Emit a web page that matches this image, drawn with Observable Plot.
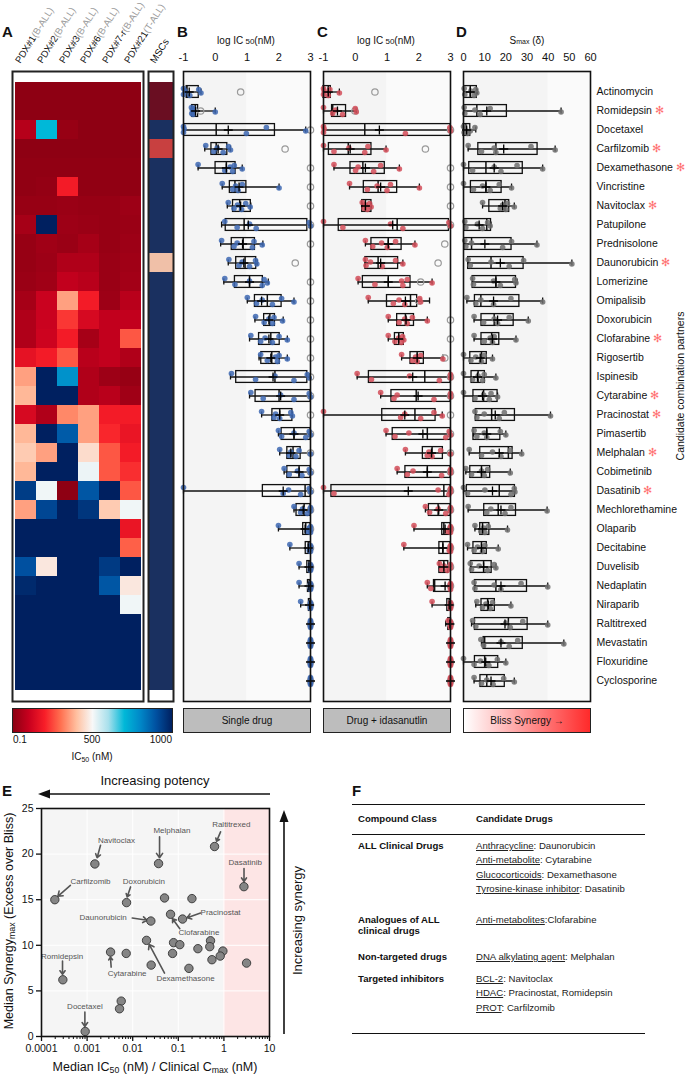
<!DOCTYPE html>
<html><head><meta charset="utf-8">
<script src="https://cdn.jsdelivr.net/npm/d3@7"></script>
<script src="https://cdn.jsdelivr.net/npm/@observablehq/plot@0.6"></script>
<style>
body{margin:0;background:#fff;font-family:"Liberation Sans",Arial,Helvetica,sans-serif;color:#111}
#root{position:relative;width:685px;height:1080px;overflow:hidden;background:#fff}
.lbl{position:absolute;white-space:nowrap}
.letter{position:absolute;font-weight:bold;font-size:15px;line-height:15px}
.boxlab{position:absolute;box-sizing:border-box;border:1.5px solid #222;font-size:10px;display:flex;align-items:center;justify-content:center}
.tb{position:absolute;font-size:9.6px;line-height:11px;white-space:nowrap;color:#222}
.tb b{color:#111}
.u{text-decoration:underline}
sub{font-size:70%;vertical-align:-2px;line-height:0}
</style></head>
<body><div id="root"></div>
<script>
// ---------------- DATA ----------------
const drugs = ["Actinomycin","Romidepsin","Docetaxel","Carfilzomib","Dexamethasone","Vincristine","Navitoclax","Patupilone","Prednisolone","Daunorubicin","Lomerizine","Omipalisib","Doxorubicin","Clofarabine","Rigosertib","Ispinesib","Cytarabine","Pracinostat","Pimasertib","Melphalan","Cobimetinib","Dasatinib","Mechlorethamine","Olaparib","Decitabine","Duvelisib","Nedaplatin","Niraparib","Raltitrexed","Mevastatin","Floxuridine","Cyclosporine"];
const starred = ["Romidepsin","Carfilzomib","Dexamethasone","Navitoclax","Daunorubicin","Clofarabine","Cytarabine","Pracinostat","Melphalan","Dasatinib"];

const pdxCols = ["PDX#1","PDX#2","PDX#3","PDX#6","PDX#7-r","PDX#21"];
const pdxTypes = ["(B-ALL)","(B-ALL)","(B-ALL)","(B-ALL)","(B-ALL)","(T-ALL)"];
// IC50 (nM) per PDX column, one value per drug row
const icPDX1  = [5,5,70,5,10,10,20,45,20,20,25,45,60,60,160,360,390,130,390,420,390,940,360,1000,1000,900,980,1000,1000,1000,1000,1000];
const icPDX2  = [5,5,700,5,10,15,20,1000,35,30,35,105,105,110,190,1000,1000,60,1000,360,1000,510,920,1000,1000,470,1000,1000,1000,1000,1000,1000];
const icPDX3  = [5,5,20,5,10,190,25,30,25,60,90,360,230,190,270,780,1000,330,880,1000,1000,5,1000,1000,1000,1000,1000,1000,1000,1000,1000,1000];
const icPDX6  = [5,5,5,5,10,10,20,25,45,60,75,190,130,45,75,60,60,360,360,450,515,890,955,1000,1000,1000,1000,1000,1000,1000,1000,1000];
const icPDX7  = [5,5,5,5,10,10,20,20,20,25,25,30,90,90,90,30,75,190,210,270,270,1000,420,1000,1000,945,890,1000,1000,1000,1000,1000];
const icPDX21 = [5,5,5,5,10,10,30,25,30,35,40,75,90,270,60,20,35,190,170,190,220,270,510,170,280,1000,470,510,1000,1000,1000,1000];
const icMSC   = [0,0,1000,150,1000,1000,1000,1000,1000,420,1000,1000,1000,1000,1000,1000,1000,1000,1000,1000,1000,1000,1000,1000,1000,1000,1000,1000,1000,1000,1000,1000];
const heatStops  = [0,100,200,300,400,500,600,700,800,900,1000];
const heatColors = ["#8b0012","#c8001e","#f81e28","#ff7050","#ffc0a0","#f8f8f8","#a8e0ec","#00b8d8","#0088c8","#0050a0","#002060"];
const mscStops  = [0,150,420,500,1000];
const mscColors = ["#6a0e22","#c84040","#f0c0a8","#f4f4f4","#1a3060"];
const colorbarTicks = ["0.1","500","1000"];

// Panel B: single drug log IC50
const sLo  = [-1,-0.75,-1,-0.33,-0.54,0.22,0.38,0.2,0.17,0.41,0.27,1.01,1.25,1.08,1.38,0.48,1.08,1.46,1.99,2.03,2.17,-1,2.48,1.99,2.35,2.64,2.64,2.69,3,3,3,3];
const sQ1  = [-0.9,-0.73,-0.98,-0.12,0.01,0.46,0.56,0.33,0.52,0.66,0.62,1.25,1.54,1.38,1.45,0.66,1.27,1.8,2.09,2.27,2.27,1.5,2.56,2.77,2.85,2.9,2.92,2.95,3,3,3,3];
const sMed = [-0.89,-0.63,0.03,0.03,0.35,0.62,0.77,0.91,0.88,0.94,1.08,1.64,1.72,1.75,1.78,1.88,2.01,2.03,2.48,2.45,2.64,2.83,2.8,2.85,2.93,2.95,2.96,3,3,3,3,3];
const sQ3  = [-0.52,-0.54,1.88,0.38,0.64,0.98,1.12,2.9,1.25,1.29,1.5,2.09,1.88,2.03,2.03,2.9,3,2.43,3,2.69,3,3,3,3,3,3,3,3,3,3,3,3];
const sHi  = [-0.45,0.0,2.85,0.48,0.85,2.01,1.12,3,1.5,1.32,1.67,2.48,2.14,2.27,2.27,2.98,3,2.43,3,3,3,3,3,3,3,3,3,3,3,3,3,3];
const sMean= [-0.82,-0.62,0.41,0.09,0.35,0.75,0.8,1.04,0.86,0.9,1.08,1.46,1.69,1.69,1.75,1.82,2.06,2.03,2.48,2.38,2.64,2.14,2.77,2.83,2.93,2.95,2.95,2.97,3,3,3,3];
const sPts = [[-1,-1,-0.95,-0.8,-0.52,-0.45],[-0.75,-0.74,-0.72,-0.7,-0.68,0.0],[-1,-1,-0.98,0.98,1.61,2.85],[-0.3,-0.05,0.06,0.25,0.42,0.48],[-0.54,0.3,0.47,0.55,0.6,0.85],[0.22,0.55,0.64,0.72,0.85,2.01],[0.41,0.59,0.7,0.83,0.96,1.1],[0.3,0.69,1.08,1.29,2.96,3],[0.2,0.59,0.69,1.17,1.22,1.48],[0.43,0.75,0.85,1.08,1.27,1.31],[0.3,0.62,1.08,1.48,1.54,1.64],[1.01,1.3,1.48,1.8,2.09,2.48],[1.27,1.54,1.69,1.8,1.85,2.12],[1.12,1.43,1.57,1.8,2.01,2.27],[1.43,1.64,1.9,1.96,2.01,2.27],[0.51,1.27,1.88,2.48,2.9,2.96],[1.12,1.51,2.06,2.48,2.96,3],[1.46,1.85,1.9,2.03,2.38,2.43],[1.99,2.09,2.48,2.85,2.96,3],[2.03,2.33,2.38,2.54,2.64,3],[2.17,2.33,2.59,2.73,2.96,3],[-1,2.14,2.31,2.69,2.96,3],[2.48,2.69,2.75,2.9,3,3],[1.99,2.9,2.96,3,3,3],[2.35,2.96,3,3,3,3],[2.64,3,3,3,3,3],[2.64,3,3,3,3,3],[2.69,3,3,3,3,3],[3,3,3,3,3,3],[3,3,3,3,3,3],[3,3,3,3,3,3],[3,3,3,3,3,3]];
const sMSC = [0.8,-0.46,3,2.2,3,3,3,3,3,2.52,3,3,3,3,3,3,3,3,3,3,3,3,3,3,3,3,3,3,3,3,3,3];

// Panel C: drug + idasanutlin log IC50
const cLo  = [-1,-1,-1,-1,-0.67,-0.18,0.22,-1,0.32,0.32,0.09,0.41,1.04,1.04,1.46,0.06,0.8,-1,0.97,1.58,1.32,-1,2.21,1.85,1.53,2.65,2.27,2.42,2.85,3,3,3];
const cQ1  = [-1,-0.73,-0.98,-0.83,-0.15,0.27,0.22,-0.52,0.51,0.32,0.24,1.0,1.32,1.25,1.74,0.43,1.14,0.85,1.18,2.13,1.58,-0.75,2.32,2.74,2.65,2.65,2.48,2.9,2.93,3,3,3];
const cMed = [-0.85,-0.71,0.3,-0.22,0.24,0.72,0.32,1.32,1.04,0.72,1.04,1.74,1.58,1.37,1.95,2.19,1.92,1.88,2.27,2.42,2.27,2.79,2.61,2.79,2.76,2.79,2.5,2.96,3,3,3,3];
const cQ3  = [-0.77,-0.29,3,0.51,0.93,1.32,0.51,2.95,1.46,1.35,1.74,1.95,1.85,1.53,2.16,3,3,2.53,3,2.76,3,3,3,3,3,2.93,3,3,3,3,3,3];
const cHi  = [-0.5,0.03,3,0.97,1.39,2.02,0.51,3,1.88,1.5,2.42,2.34,2.27,1.53,2.76,3,3,2.74,3,3,3,3,3,3,3,3,3,3,3,3,3,3];
const cMean= [-0.85,-0.56,0.76,-0.16,0.32,0.8,0.32,1.18,1.04,0.8,1.04,1.58,1.6,1.37,1.95,1.81,1.98,1.56,2.13,2.4,2.27,1.67,2.63,2.83,2.76,2.79,2.83,2.96,2.98,3,3,3];
const cPts = [[-1,-1,-0.98,-0.85,-0.8,-0.5],[-1,-0.71,-0.62,-0.4,0.0,0.03],[-1,-1,-0.98,1.58,2.98,3],[-1,-0.67,-0.2,0.3,0.4,0.97],[-0.67,0.01,0.09,0.58,0.8,1.39],[-0.18,0.38,0.69,1.0,1.11,2.02],[0.22,0.28,0.32,0.38,0.45,0.5],[-1,-0.39,1.11,1.5,2.95,3],[0.32,0.55,0.83,1.01,1.27,1.88],[0.32,0.34,0.48,0.85,1.27,1.5],[0.09,0.62,1.46,1.5,1.64,2.42],[0.41,1.2,1.38,1.56,2.03,2.06],[1.04,1.38,1.56,1.64,1.8,2.27],[1.04,1.25,1.37,1.45,1.49,1.53],[1.46,1.8,1.9,1.95,2.06,2.76],[0.06,0.51,1.71,2.65,3,3],[0.8,1.22,1.32,2.48,3,3],[-1,1.43,1.56,2.06,2.48,2.74],[0.97,1.25,1.69,2.85,2.96,3],[1.58,2.27,2.32,2.42,2.69,3],[1.32,1.64,1.82,2.72,3,3],[-1,-0.67,2.61,2.95,3,3],[2.21,2.34,2.61,2.85,3,3],[1.85,2.9,3,3,3,3],[1.53,2.96,3,3,3,3],[2.65,2.72,2.8,2.9,3,3],[2.27,2.38,3,3,3,3],[2.42,3,3,3,3,3],[2.93,3,3,3,3,3],[3,3,3,3,3,3],[3,3,3,3,3,3],[3,3,3,3,3,3]];
const cMSC = [0.62,-0.01,3,2.21,3,3,3,3,2.82,2.61,2.06,2.0,3,3,2.82,3,3,3,3,3,3,3,3,3,3,3,3,3,3,3,3,3];

// Panel D: Bliss Smax
const dLo  = [0.3,0.3,0,2.2,0,0,9,0.6,0.6,2.2,4.3,1.6,5,5,0,0,0,5.8,4.7,2.7,1.1,0,2.2,5.4,1.9,3.5,5.4,5.8,3.8,8.5,0,5];
const dQ1  = [0.3,0.3,0,7,2.7,3.5,12.2,0.6,0.6,2.2,4.3,5.4,8.5,8.5,3.2,3.8,4.7,5.8,4.7,7.9,3.2,1.6,9.8,7.9,4.7,3.5,5.4,8.5,5.4,9.5,5.4,8];
const dMed = [3.2,6.3,1.1,15.3,10.6,10.6,19.6,11,3.8,13,15.3,8.2,14.5,13.3,8.5,6.9,9.5,13.3,11,21.2,8.5,16.9,16.4,9,8.5,9.5,15.3,11.4,21.2,10,10,11];
const dQ3  = [6.3,20.5,3.2,35,28,18,21.6,13,22.7,28.4,24.8,26.4,23.7,16.9,11,10.1,16.1,24.3,17.4,23.2,12.6,24.3,24.8,12.2,11,13.3,30,14.8,30.3,28,16.4,19.5];
const dHi  = [6.6,46.1,5.8,43.3,37.4,22.7,24,13,34.7,51.2,25.3,37.4,30.6,24.8,13.7,15.3,16.1,41.1,20,27.5,22.1,24.3,39.5,20.8,16.4,15.3,39.8,22.4,39.8,47.4,20,24];
const dMean= [3.2,11,1.5,19,14.5,10.6,18.5,7.4,10.1,17.4,15.3,14.2,16.1,13.7,7.9,6.6,9,15,11,16.9,8.5,13.7,17.7,9,8.5,9.5,17.7,11.7,19.6,17.7,10.5,13];
const dPts = [[0.3,0.6,3.5,5,5.8,6.3],[0.3,0.6,5.4,7.9,12.6,46.1],[0,0.3,0.6,1.9,5.4,3.2],[2.2,8.5,14.5,15.3,31.9,43.3],[0,4.3,14.5,17.7,25.3,37.4],[0,4.7,9,12.6,16.9,22.7],[9,17.4,18.5,20,20.8,24],[0.6,1.1,6.6,9,11.4,12.6],[0.6,1.1,3.8,18.5,22.7,34.7],[2.2,3.2,13,21.6,28.4,51.2],[4.3,4.7,14.2,17.4,24.2,24.8],[1.6,5.8,8.2,14.2,22.4,37.4],[5,9.5,14.5,16.1,21.6,30.6],[5,9.8,12.6,13.7,14.5,24.8],[0,3.5,5.8,8.5,9.8,13.7],[0,4.3,6.9,9,9.8,15.3],[0,5.4,9.5,12.2,13,16.1],[5.4,6.3,9.8,16.9,19.3,41.1],[5,6.3,9.8,11,17.4,20],[2.7,8.5,13.7,17.7,22.1,27.5],[1.1,3.8,8.5,9.8,11.4,22.1],[0,1.9,10.1,22.4,24,24.3],[2.2,11,12.9,19.6,22.4,39.5],[5.4,8.2,9.5,10.1,11.7,20.8],[1.9,5,6.6,9,10.1,16.4],[3.2,3.8,7.4,11.4,14.5,15.3],[5,5.4,14.5,17.7,27.2,39.8],[6.3,9,10.6,12.6,13.7,22.4],[4.3,5.8,20,22.1,28,39.8],[8.2,9.5,17.7,21.6,25.6,47.4],[0,5,8,12,16,20],[5,8.5,11,14,19,24]];

// Panel E: scatter
const eX = [0.00148,0.0369,0.624,2.75,0.000196,0.00733,0.0499,0.199,0.0676,0.124,0.025,0.0201,0.0787,0.108,0.509,0.49,0.269,0.95,0.83,0.547,0.0748,3.14,0.0254,0.171,0.00327,0.0072,0.000294,0.0056,0.00514,0.000908];
const eY = [18.92,18.96,20.83,16.43,15.0,14.68,15.19,15.12,13.4,12.88,12.66,10.54,10.29,10.07,10.5,9.85,9.63,9.37,8.82,8.42,9.11,8.05,7.83,7.47,9.26,9.11,6.22,3.88,3.04,0.55];
const annNames = ["Navitoclax","Melphalan","Raltitrexed","Dasatinib","Carfilzomib","Doxorubicin","Daunorubicin","Pracinostat","Clofarabine","Dexamethasone","Cytarabine","Romidepsin","Docetaxel"];
const annLX = [0.00442,0.0724,1.45,2.94,0.00119,0.0176,0.00225,0.845,0.283,0.144,0.00757,0.000284,0.000894];
const annLY = [21.45,22.55,23.28,19.07,17.02,17.02,13.1,13.62,11.42,6.37,6.95,8.78,3.29];
const annAX1 = [0.00197,0.0388,0.845,2.76,0.00043,0.00897,0.00976,0.307,0.108,0.0499,0.00337,0.000289,0.000894];
const annAY1 = [20.97,21.9,22.44,18.41,16.58,16.4,12.99,13.54,11.82,6.95,7.61,8.27,2.67];
const annAX2 = [0.00166,0.0388,0.69,2.76,0.000228,0.00757,0.0208,0.157,0.0748,0.023,0.00325,0.000289,0.000894];
const annAY2 = [19.6,19.6,21.4,17.0,15.37,15.3,12.74,13.03,12.92,10.1,8.71,6.81,1.1];
const eXTicks = [0.0001,0.001,0.01,0.1,1,10];
const eYTicks = [0,5,10,15,20,25];

// Panel F table
const tClass = ["ALL Clinical Drugs","Analogues of ALL<br>clinical drugs","Non-targeted drugs","Targeted inhibitors"];
const tCats = [["Anthracycline","Anti-metabolite","Glucocorticoids","Tyrosine-kinase inhibitor"],["Anti-metabolites"],["DNA alkylating agent"],["BCL-2","HDAC","PROT"]];
const tDrugs = [["Daunorubicin","Cytarabine","Dexamethasone","Dasatinib"],["Clofarabine"],["Melphalan"],["Navitoclax","Pracinostat, Romidepsin","Carfilzomib"]];

// ---------------- HELPERS ----------------
const root = document.getElementById("root");
const FONT = "Liberation Sans, Arial, Helvetica, sans-serif";
function put(node, left, top){ node.style.position="absolute"; node.style.left=left+"px"; node.style.top=top+"px"; root.appendChild(node); return node; }
function txt(html, left, top, css){ const d=document.createElement("div"); d.className="lbl"; d.innerHTML=html; if(css) d.style.cssText+=css; return put(d,left,top); }
function letter(s, left, top){ const d=document.createElement("div"); d.className="letter"; d.textContent=s; return put(d,left,top); }

// ---------------- PANEL A: heatmap ----------------
const pdxArrays = [icPDX1,icPDX2,icPDX3,icPDX6,icPDX7,icPDX21];
const cells = pdxArrays.flatMap((arr,c)=>arr.map((v,i)=>({col:pdxCols[c], drug:drugs[i], v})));
const heat = Plot.plot({
  width:133, height:632, margin:1,
  style:{fontFamily:FONT, background:"transparent", overflow:"visible"},
  x:{domain:pdxCols, axis:null, padding:0},
  y:{domain:drugs, axis:null, padding:0},
  color:{type:"linear", domain:heatStops, range:heatColors, interpolate:"rgb"},
  marks:[
    Plot.cell(cells,{x:"col", y:"drug", fill:"v"}),
    Plot.frame({stroke:"#222", strokeWidth:2})
  ]
});
put(heat, 11, 70);
const mscCells = icMSC.map((v,i)=>({col:"MSCs", drug:drugs[i], v}));
const heatMSC = Plot.plot({
  width:27, height:632, margin:1,
  style:{fontFamily:FONT, background:"transparent", overflow:"visible"},
  x:{domain:["MSCs"], axis:null, padding:0},
  y:{domain:drugs, axis:null, padding:0},
  color:{type:"linear", domain:mscStops, range:mscColors, interpolate:"rgb"},
  marks:[
    Plot.cell(mscCells,{x:"col", y:"drug", fill:"v"}),
    Plot.frame({stroke:"#222", strokeWidth:2})
  ]
});
put(heatMSC, 146.5, 70);
// rotated column labels
const colW = 131/6;
pdxCols.forEach((c,i)=>{
  const x = 12 + colW*(i+0.5) - 1;
  txt(`<span style="color:#111">${c}</span><span style="color:#9a9a9a">${pdxTypes[i]}</span>`, x, 55,
      "font-size:9.6px;line-height:10px;transform-origin:0 100%;transform:rotate(-58deg);");
});
txt("MSCs", 157, 55, "font-size:9.8px;line-height:10px;transform-origin:0 100%;transform:rotate(-58deg);");
// colorbar
const grad = heatColors.map((c,i)=>`${c} ${heatStops[i]/10}%`).join(",");
const cb = document.createElement("div"); cb.className="boxlab";
cb.style.cssText += `width:161px;height:25px;background:linear-gradient(to right,${grad});`;
put(cb, 12, 708);
txt(colorbarTicks[0], 13, 734, "font-size:10px;");
txt(colorbarTicks[1], 92, 734, "font-size:10px;transform:translateX(-50%);");
txt(colorbarTicks[2], 172, 734, "font-size:10px;transform:translateX(-100%);");
txt("IC<sub>50</sub> (nM)", 92, 751, "font-size:10px;transform:translateX(-50%);");

// ---------------- PANELS B, C, D: box plots ----------------
const jit = [-3.5,2.5,-1,3.5,-2.5,1];
function boxPanel(cfg){
  const rows = drugs.map((drug,i)=>({drug, lo:cfg.lo[i], q1:cfg.q1[i], med:cfg.med[i], q3:cfg.q3[i], hi:cfg.hi[i], mean:cfg.mean[i]}));
  const pts = drugs.flatMap((drug,i)=>cfg.pts[i].map((v,j)=>({drug, v, j})));
  const marks = [
    Plot.rect([{a:cfg.domain[0], b:cfg.split}], {x1:"a", x2:"b", fill:"#f4f4f4"}),
    Plot.rect([{a:cfg.split, b:cfg.domain[1]}], {x1:"a", x2:"b", fill:"#fafafa"}),
    Plot.ruleY(rows, {y:"drug", x1:"lo", x2:"hi", stroke:"#111", strokeWidth:1.3}),
    Plot.barX(rows, {y:"drug", x1:"q1", x2:"q3", fill:"none", stroke:"#111", strokeWidth:1.3, insetTop:3.6, insetBottom:3.6}),
    Plot.tickX(rows, {y:"drug", x:"med", stroke:"#111", strokeWidth:1.5, insetTop:3.6, insetBottom:3.6}),
    Plot.tickX(rows, {y:"drug", x:"lo", stroke:"#111", strokeWidth:1.3, insetTop:6.5, insetBottom:6.5}),
    Plot.tickX(rows, {y:"drug", x:"hi", stroke:"#111", strokeWidth:1.3, insetTop:6.5, insetBottom:6.5})
  ];
  if (cfg.msc) {
    const m = drugs.map((drug,i)=>({drug, v:cfg.msc[i]}));
    marks.push(Plot.dot(m, {x:"v", y:"drug", r:3.2, stroke:"#9a9a9a", strokeWidth:1.2, fill:"none"}));
  }
  jit.forEach((dy,j)=>{
    marks.push(Plot.dot(pts.filter(p=>p.j===j), {x:"v", y:"drug", dy, r:2.8, fill:cfg.color, fillOpacity:0.85, stroke:"none"}));
  });
  marks.push(Plot.dot(rows, {x:"mean", y:"drug", symbol:"plus", r:3, stroke:"#000", strokeWidth:1.3}));
  marks.push(Plot.frame({stroke:"#111", strokeWidth:1.6}));
  marks.push(Plot.axisX({anchor:"top", ticks:cfg.ticks, tickSize:0, tickPadding:11, fontSize:11, label:null, tickFormat:d=>String(d)}));
  if (cfg.yAxis) marks.push(Plot.axisY({anchor:"right", tickSize:0, tickPadding:6, fontSize:10.5, label:null}));
  const svg = Plot.plot({
    width:cfg.width, height:680, marginLeft:15, marginRight:cfg.width-15-127, marginTop:41, marginBottom:9,
    style:{fontFamily:FONT, background:"transparent", overflow:"visible", color:"#111"},
    x:{domain:cfg.domain},
    y:cfg.yAxis ? {domain:drugs, padding:0} : {domain:drugs, padding:0, axis:null},
    marks
  });
  if (cfg.yAxis) {
    svg.querySelectorAll('g[aria-label="y-axis tick label"] text').forEach(t=>{
      if (starred.includes(t.textContent)) {
        const ts = document.createElementNS("http://www.w3.org/2000/svg","tspan");
        ts.textContent = " \u273B"; ts.setAttribute("fill","#ff7373"); ts.setAttribute("font-size","10.5");
        t.appendChild(ts);
      }
    });
  }
  return svg;
}
put(boxPanel({lo:sLo,q1:sQ1,med:sMed,q3:sQ3,hi:sHi,mean:sMean,pts:sPts,msc:sMSC,color:"#3d67b1",domain:[-1,3],split:1,ticks:[-1,0,1,2,3],width:150}), 168, 30);
put(boxPanel({lo:cLo,q1:cQ1,med:cMed,q3:cQ3,hi:cHi,mean:cMean,pts:cPts,msc:cMSC,color:"#d24c58",domain:[-1,3],split:1,ticks:[-1,0,1,2,3],width:150}), 308, 30);
put(boxPanel({lo:dLo,q1:dQ1,med:dMed,q3:dQ3,hi:dHi,mean:dMean,pts:dPts,color:"#6e6e6e",domain:[0,60],split:40,ticks:[0,10,20,30,40,50,60],width:237,yAxis:true}), 448, 30);

txt("log IC<span style='font-size:8px'> 50</span>(nM)", 246, 35, "font-size:10px;transform:translateX(-50%);");
txt("log IC<span style='font-size:8px'> 50</span>(nM)", 386, 35, "font-size:10px;transform:translateX(-50%);");
txt("S<span style='font-size:7px'>max</span> (δ)", 527, 35, "font-size:10px;transform:translateX(-50%);");
txt("Candidate combination partners", 530, 380, "font-size:10.5px;width:300px;text-align:center;transform:rotate(-90deg);");

[["Single drug",183,"#bdbdbd"],["Drug + idasanutlin",323,"#bdbdbd"],["Bliss Synergy \u2192",463,"linear-gradient(to right,#ffffff,#ff2a2a)"]].forEach(([t,x,bg])=>{
  const b=document.createElement("div"); b.className="boxlab"; b.textContent=t;
  b.style.cssText += `width:128px;height:25px;background:${bg};`;
  put(b, x, 708);
});

letter("A",2,24); letter("B",177,24); letter("C",317,24); letter("D",456,24);

// ---------------- PANEL E: scatter ----------------
const scatter = eX.map((x,i)=>({x, y:eY[i]}));
const ann = annNames.map((n,i)=>({n, lx:annLX[i], ly:annLY[i], x1:annAX1[i], y1:annAY1[i], x2:annAX2[i], y2:annAY2[i]}));
const minor = [];
for (let e=-4; e<1; e++) for (let k=2; k<10; k++) minor.push(k*Math.pow(10,e));
const eplot = Plot.plot({
  width:285, height:290, marginLeft:41, marginRight:16, marginTop:18, marginBottom:44,
  style:{fontFamily:FONT, background:"transparent", overflow:"visible", color:"#111"},
  x:{type:"log", domain:[0.0001,10]},
  y:{domain:[0,25]},
  marks:[
    Plot.rect([{a:0.0001,b:1}], {x1:"a", x2:"b", fill:"#f5f5f5"}),
    Plot.rect([{a:1,b:10}], {x1:"a", x2:"b", fill:"#fde5e5"}),
    Plot.gridX({ticks:eXTicks, stroke:"#fff", strokeOpacity:1, strokeWidth:1}),
    Plot.gridY({ticks:eYTicks, stroke:"#fff", strokeOpacity:1, strokeWidth:1}),
    Plot.arrow(ann, {x1:"x1", y1:"y1", x2:"x2", y2:"y2", stroke:"#555", strokeWidth:1.6, headLength:5, headAngle:70}),
    Plot.dot(scatter, {x:"x", y:"y", r:4.2, fill:"#858585", stroke:"#333", strokeWidth:0.9}),
    Plot.text(ann, {x:"lx", y:"ly", text:"n", fontSize:8, fill:"#555"}),
    Plot.frame({stroke:"#111", strokeWidth:1.6}),
    Plot.axisX({ticks:minor, tickSize:3, tickFormat:()=>"", label:null, strokeWidth:1}),
    Plot.axisX({ticks:eXTicks, tickSize:5, tickPadding:3, fontSize:10.5, tickFormat:d=>d3.format("~g")(d), label:null, strokeWidth:1.3}),
    Plot.axisY({ticks:eYTicks, tickSize:5, tickPadding:3, fontSize:10.5, label:null, strokeWidth:1.3})
  ]
});
put(eplot, 0, 790);
letter("E",2,783);
txt("Increasing potency", 155, 773, "font-size:13px;transform:translateX(-50%);");
const ns="http://www.w3.org/2000/svg";
function arrowSvg(w,h,pathLine,pathHead){ const s=document.createElementNS(ns,"svg"); s.setAttribute("width",w); s.setAttribute("height",h);
  s.innerHTML=`<path d="${pathLine}" stroke="#111" stroke-width="1.6" fill="none"/><path d="${pathHead}" fill="#111"/>`; return s; }
put(arrowSvg(240,12,"M10,6H232","M0,6L12,1.5L12,10.5Z"), 38, 788);
put(arrowSvg(12,230,"M6,10V224","M6,0L1.5,12L10.5,12Z"), 278, 810);
txt("Increasing synergy", 167, 913, "font-size:13px;width:260px;text-align:center;transform:rotate(-90deg);");
txt("Median Synergy<sub>max</sub> (Excess over Bliss)", -121, 914, "font-size:12.5px;width:260px;text-align:center;transform:rotate(-90deg);");
txt("Median IC<sub>50</sub> (nM) / Clinical C<sub>max</sub> (nM)", 155, 1060, "font-size:12.5px;transform:translateX(-50%);");

// ---------------- PANEL F: table ----------------
letter("F",352,783);
function hline(y,w){ const d=document.createElement("div"); d.style.cssText=`width:293px;height:0;border-top:${w}px solid #111;`; put(d,352,y); }
hline(804,1.6); hline(834,1.6); hline(1033,1.6);
const tb = (h,x,y)=>{ const d=document.createElement("div"); d.className="tb"; d.innerHTML=h; return put(d,x,y); };
tb("<b>Compound Class</b>",358,813); tb("<b>Candidate Drugs</b>",476,813);
const classY = [840,914,951,973];
const lineGap = 14.4;
tClass.forEach((c,i)=>{
  tb(`<b>${c}</b>`,358,classY[i]);
  tCats[i].forEach((cat,k)=>{
    const sep = (i===1) ? ":" : ": ";
    tb(`<span class="u">${cat}</span>${sep}${tDrugs[i][k]}`,476,classY[i]+k*lineGap);
  });
});
</script></body></html>
